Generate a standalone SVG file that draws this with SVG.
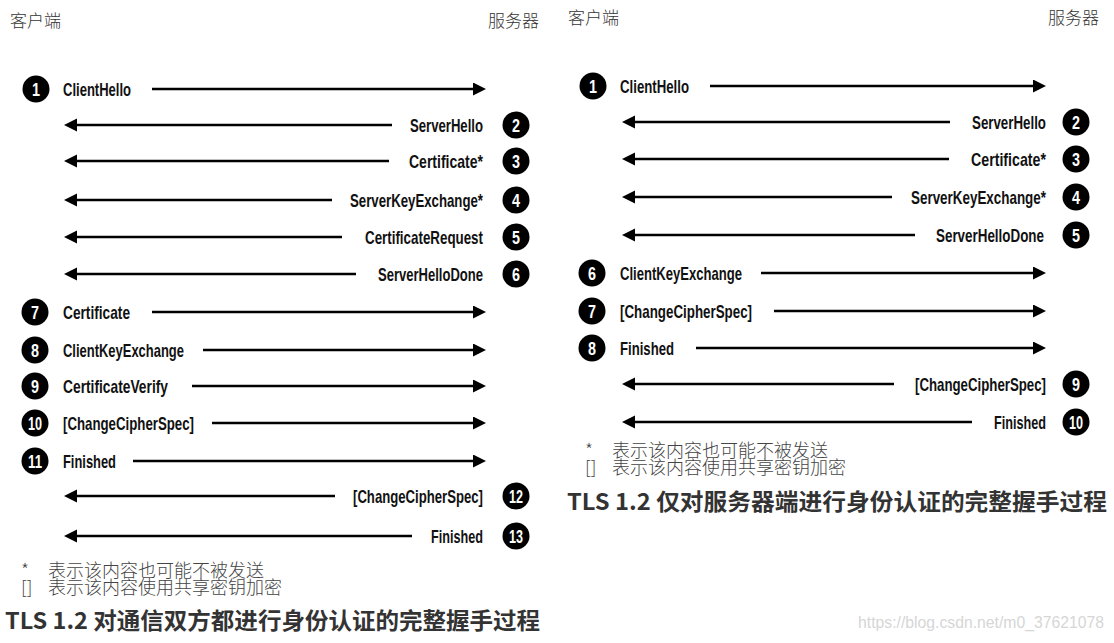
<svg xmlns="http://www.w3.org/2000/svg" width="1114" height="643" viewBox="0 0 1114 643">
<defs>
<style>
.lbl{font-family:"Liberation Sans",Arial,sans-serif;font-weight:bold;font-size:18.5px;fill:#111}
.num{font-family:"Liberation Sans",Arial,sans-serif;font-weight:bold;font-size:19px;fill:#fff}
.dot{fill:#000}
.hdr{font-family:"Noto Sans CJK SC",sans-serif;font-weight:300;font-size:17px;fill:#333}
.note{font-family:"Noto Sans CJK SC",sans-serif;font-weight:300;font-size:18px;fill:#444}
.ttl{font-family:"Noto Sans CJK SC",sans-serif;font-weight:bold;font-size:23px;fill:#333}
.wm{font-family:"Liberation Sans",Arial,sans-serif;font-size:17px;fill:#d6d6d6}
.ln{stroke:#000;stroke-width:2.5;fill:none;marker-end:url(#ah)}
</style>
<marker id="ah" markerWidth="14" markerHeight="14" refX="5" refY="6.5" orient="auto" markerUnits="userSpaceOnUse">
<path d="M0,0 L13,6.5 L0,13 z" fill="#000"/>
</marker>
</defs>
<rect width="1114" height="643" fill="#fff"/>

<!-- Left panel headers -->
<text class="hdr" x="10" y="27">客户端</text>
<text class="hdr" x="488" y="27">服务器</text>

<!-- Left panel nodes -->
<g id="L1"><circle class="dot" cx="36" cy="89" r="13.5"/><text class="num" x="32" y="96" textLength="8" lengthAdjust="spacingAndGlyphs">1</text><text class="lbl" x="63" y="95.5" textLength="68" lengthAdjust="spacingAndGlyphs">ClientHello</text></g>
<g id="L2"><circle class="dot" cx="516" cy="125" r="13.5"/><text class="num" x="512" y="132" textLength="8" lengthAdjust="spacingAndGlyphs">2</text><text class="lbl" x="410" y="131.5" textLength="73" lengthAdjust="spacingAndGlyphs">ServerHello</text></g>
<g id="L3"><circle class="dot" cx="516" cy="161" r="13.5"/><text class="num" x="512" y="168" textLength="8" lengthAdjust="spacingAndGlyphs">3</text><text class="lbl" x="409" y="167.5" textLength="74" lengthAdjust="spacingAndGlyphs">Certificate*</text></g>
<g id="L4"><circle class="dot" cx="516" cy="200" r="13.5"/><text class="num" x="512" y="207" textLength="8" lengthAdjust="spacingAndGlyphs">4</text><text class="lbl" x="350" y="206.5" textLength="133" lengthAdjust="spacingAndGlyphs">ServerKeyExchange*</text></g>
<g id="L5"><circle class="dot" cx="516" cy="237" r="13.5"/><text class="num" x="512" y="244" textLength="8" lengthAdjust="spacingAndGlyphs">5</text><text class="lbl" x="365" y="243.5" textLength="118" lengthAdjust="spacingAndGlyphs">CertificateRequest</text></g>
<g id="L6"><circle class="dot" cx="516" cy="274" r="13.5"/><text class="num" x="512" y="281" textLength="8" lengthAdjust="spacingAndGlyphs">6</text><text class="lbl" x="378" y="280.5" textLength="105" lengthAdjust="spacingAndGlyphs">ServerHelloDone</text></g>
<g id="L7"><circle class="dot" cx="35" cy="312" r="13.5"/><text class="num" x="31" y="319" textLength="8" lengthAdjust="spacingAndGlyphs">7</text><text class="lbl" x="63" y="318.5" textLength="67" lengthAdjust="spacingAndGlyphs">Certificate</text></g>
<g id="L8"><circle class="dot" cx="35" cy="350" r="13.5"/><text class="num" x="31" y="357" textLength="8" lengthAdjust="spacingAndGlyphs">8</text><text class="lbl" x="63" y="356.5" textLength="121" lengthAdjust="spacingAndGlyphs">ClientKeyExchange</text></g>
<g id="L9"><circle class="dot" cx="35" cy="386" r="13.5"/><text class="num" x="31" y="393" textLength="8" lengthAdjust="spacingAndGlyphs">9</text><text class="lbl" x="63" y="392.5" textLength="105" lengthAdjust="spacingAndGlyphs">CertificateVerify</text></g>
<g id="L10"><circle class="dot" cx="35" cy="423" r="13.5"/><text class="num" x="28" y="430" textLength="14" lengthAdjust="spacingAndGlyphs">10</text><text class="lbl" x="63" y="429.5" textLength="131" lengthAdjust="spacingAndGlyphs">[ChangeCipherSpec]</text></g>
<g id="L11"><circle class="dot" cx="35" cy="461" r="13.5"/><text class="num" x="28" y="468" textLength="14" lengthAdjust="spacingAndGlyphs">11</text><text class="lbl" x="63" y="467.5" textLength="53" lengthAdjust="spacingAndGlyphs">Finished</text></g>
<g id="L12"><circle class="dot" cx="516" cy="496" r="13.5"/><text class="num" x="509" y="503" textLength="14" lengthAdjust="spacingAndGlyphs">12</text><text class="lbl" x="353" y="502.5" textLength="130" lengthAdjust="spacingAndGlyphs">[ChangeCipherSpec]</text></g>
<g id="L13"><circle class="dot" cx="516" cy="536" r="13.5"/><text class="num" x="509" y="543" textLength="14" lengthAdjust="spacingAndGlyphs">13</text><text class="lbl" x="431" y="542.5" textLength="52" lengthAdjust="spacingAndGlyphs">Finished</text></g>

<!-- Left notes and title -->
<g id="L-notes">
<text class="note" x="21" y="577">*</text><text class="note" x="48" y="577">表示该内容也可能不被发送</text>
<text class="note" x="21" y="594">[]</text><text class="note" x="48" y="594">表示该内容使用共享密钥加密</text>
</g>
<text id="L-title" class="ttl" x="5" y="629" textLength="535" lengthAdjust="spacingAndGlyphs">TLS 1.2 对通信双方都进行身份认证的完整握手过程</text>

<!-- Right panel headers -->
<text class="hdr" x="568" y="24">客户端</text>
<text class="hdr" x="1048" y="24">服务器</text>

<!-- Right panel nodes -->
<g id="R1"><circle class="dot" cx="593" cy="86" r="13.5"/><text class="num" x="589" y="93" textLength="8" lengthAdjust="spacingAndGlyphs">1</text><text class="lbl" x="620" y="92.5" textLength="69" lengthAdjust="spacingAndGlyphs">ClientHello</text></g>
<g id="R2"><circle class="dot" cx="1076" cy="122" r="13.5"/><text class="num" x="1072" y="129" textLength="8" lengthAdjust="spacingAndGlyphs">2</text><text class="lbl" x="972" y="128.5" textLength="74" lengthAdjust="spacingAndGlyphs">ServerHello</text></g>
<g id="R3"><circle class="dot" cx="1076" cy="159" r="13.5"/><text class="num" x="1072" y="166" textLength="8" lengthAdjust="spacingAndGlyphs">3</text><text class="lbl" x="971" y="165.5" textLength="75" lengthAdjust="spacingAndGlyphs">Certificate*</text></g>
<g id="R4"><circle class="dot" cx="1076" cy="197" r="13.5"/><text class="num" x="1072" y="204" textLength="8" lengthAdjust="spacingAndGlyphs">4</text><text class="lbl" x="911" y="203.5" textLength="135" lengthAdjust="spacingAndGlyphs">ServerKeyExchange*</text></g>
<g id="R5"><circle class="dot" cx="1076" cy="235" r="13.5"/><text class="num" x="1072" y="242" textLength="8" lengthAdjust="spacingAndGlyphs">5</text><text class="lbl" x="936" y="241.5" textLength="108" lengthAdjust="spacingAndGlyphs">ServerHelloDone</text></g>
<g id="R6"><circle class="dot" cx="592" cy="273" r="13.5"/><text class="num" x="588" y="280" textLength="8" lengthAdjust="spacingAndGlyphs">6</text><text class="lbl" x="620" y="279.5" textLength="122" lengthAdjust="spacingAndGlyphs">ClientKeyExchange</text></g>
<g id="R7"><circle class="dot" cx="592" cy="311" r="13.5"/><text class="num" x="588" y="318" textLength="8" lengthAdjust="spacingAndGlyphs">7</text><text class="lbl" x="620" y="317.5" textLength="132" lengthAdjust="spacingAndGlyphs">[ChangeCipherSpec]</text></g>
<g id="R8"><circle class="dot" cx="592" cy="348" r="13.5"/><text class="num" x="588" y="355" textLength="8" lengthAdjust="spacingAndGlyphs">8</text><text class="lbl" x="620" y="354.5" textLength="54" lengthAdjust="spacingAndGlyphs">Finished</text></g>
<g id="R9"><circle class="dot" cx="1076" cy="384" r="13.5"/><text class="num" x="1072" y="391" textLength="8" lengthAdjust="spacingAndGlyphs">9</text><text class="lbl" x="915" y="390.5" textLength="131" lengthAdjust="spacingAndGlyphs">[ChangeCipherSpec]</text></g>
<g id="R10"><circle class="dot" cx="1076" cy="422" r="13.5"/><text class="num" x="1069" y="429" textLength="14" lengthAdjust="spacingAndGlyphs">10</text><text class="lbl" x="994" y="428.5" textLength="52" lengthAdjust="spacingAndGlyphs">Finished</text></g>

<!-- Right notes and title -->
<g id="R-notes">
<text class="note" x="585" y="457">*</text><text class="note" x="612" y="457">表示该内容也可能不被发送</text>
<text class="note" x="585" y="474">[]</text><text class="note" x="612" y="474">表示该内容使用共享密钥加密</text>
</g>
<text id="R-title" class="ttl" x="567" y="510" textLength="540" lengthAdjust="spacingAndGlyphs">TLS 1.2 仅对服务器端进行身份认证的完整握手过程</text>

<text class="wm" x="858" y="628" textLength="246" lengthAdjust="spacingAndGlyphs">https://blog.csdn.net/m0_37621078</text>

<!-- Connectors -->
<g id="connectors">
<line class="ln" x1="152" y1="89" x2="478" y2="89"/>
<line class="ln" x1="392" y1="125" x2="72" y2="125"/>
<line class="ln" x1="389" y1="161" x2="72" y2="161"/>
<line class="ln" x1="332" y1="200" x2="72" y2="200"/>
<line class="ln" x1="342" y1="237" x2="72" y2="237"/>
<line class="ln" x1="356" y1="274" x2="72" y2="274"/>
<line class="ln" x1="152" y1="312" x2="478" y2="312"/>
<line class="ln" x1="203" y1="350" x2="478" y2="350"/>
<line class="ln" x1="192" y1="386" x2="478" y2="386"/>
<line class="ln" x1="212" y1="423" x2="478" y2="423"/>
<line class="ln" x1="133" y1="461" x2="478" y2="461"/>
<line class="ln" x1="335" y1="496" x2="72" y2="496"/>
<line class="ln" x1="412" y1="536" x2="72" y2="536"/>

<line class="ln" x1="710" y1="86" x2="1038" y2="86"/>
<line class="ln" x1="950" y1="122" x2="630" y2="122"/>
<line class="ln" x1="949" y1="159" x2="630" y2="159"/>
<line class="ln" x1="892" y1="197" x2="630" y2="197"/>
<line class="ln" x1="915" y1="235" x2="630" y2="235"/>
<line class="ln" x1="761" y1="273" x2="1038" y2="273"/>
<line class="ln" x1="774" y1="311" x2="1038" y2="311"/>
<line class="ln" x1="696" y1="348" x2="1038" y2="348"/>
<line class="ln" x1="894" y1="384" x2="630" y2="384"/>
<line class="ln" x1="972" y1="422" x2="630" y2="422"/>
</g>
</svg>
